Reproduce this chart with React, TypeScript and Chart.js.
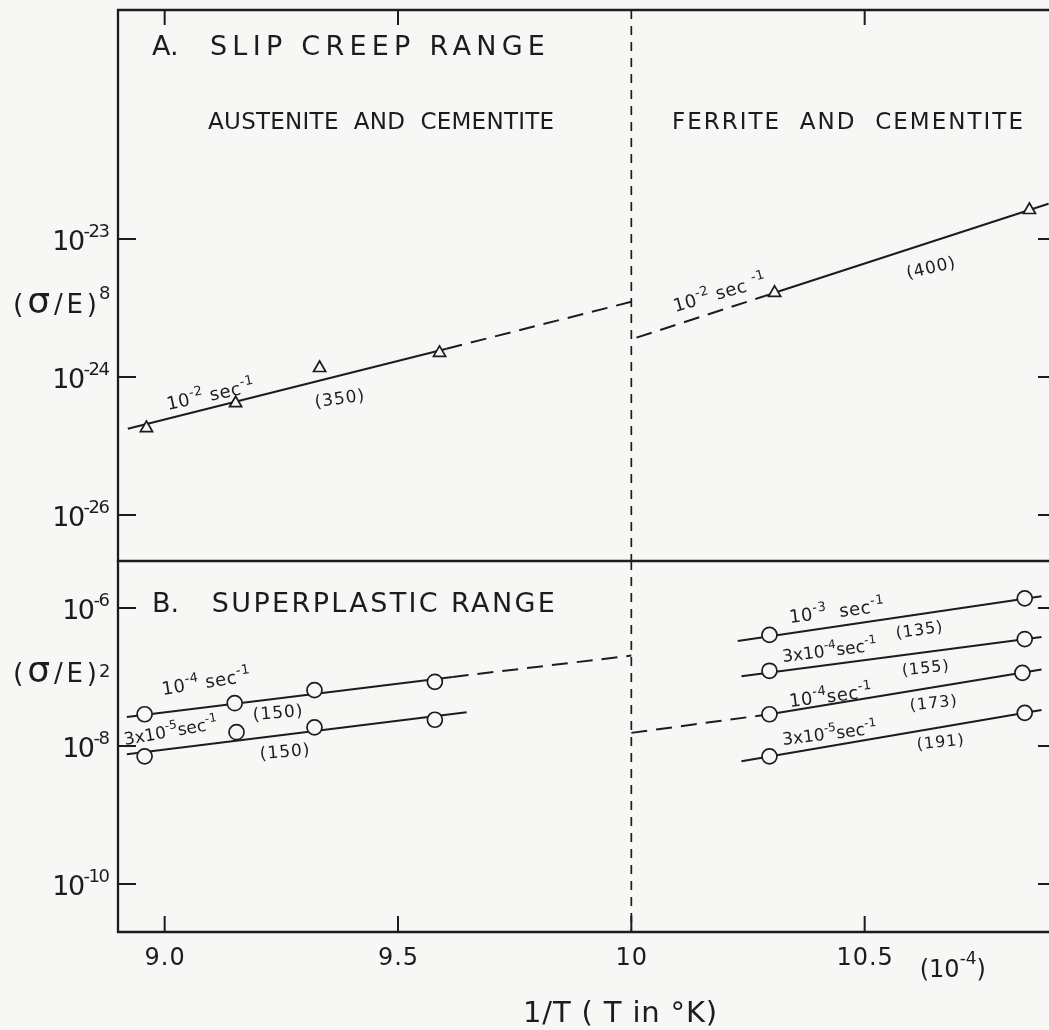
import React, { useEffect, useRef } from 'react';
import { Chart, registerables } from 'chart.js';

Chart.register(...registerables);

// ---------------------------------------------------------------------------
// Data. Abscissa: 1/T in units of 1e-4 K^-1. Ordinates are log10 values.
// ---------------------------------------------------------------------------
const X_MIN = 8.9;
const X_MAX = 10.91;
const xTickValues = [9.0, 9.5, 10, 10.5];
const xTickLabels = ['9.0', '9.5', '10', '10.5'];
const phaseBoundaryX = 10;

// Panel A: slip creep range, log10 (σ/E)^8
const SLIP_Y_MIN = -26.667;
const SLIP_Y_MAX = -18.681;
const slipTickValues = [-22, -24, -26];
const slipTickExponents = ['-23', '-24', '-26'];

const slipAusteniteX = [8.961, 9.152, 9.332, 9.589];
const slipAusteniteY = [-24.74, -24.38, -23.87, -23.65];
const slipAusteniteFitX = [8.921, 9.604];
const slipAusteniteFitY = [-24.75, -23.59];
const slipAusteniteExtX = [9.604, 10.0];
const slipAusteniteExtY = [-23.59, -22.91];

const slipFerriteX = [10.307, 10.853];
const slipFerriteY = [-22.78, -21.58];
const slipFerriteFitX = [10.307, 10.894];
const slipFerriteFitY = [-22.78, -21.49];
const slipFerriteExtX = [10.011, 10.307];
const slipFerriteExtY = [-23.43, -22.78];

// Panel B: superplastic range, log10 (σ/E)^2
const SP_Y_MIN = -10.696;
const SP_Y_MAX = -5.319;
const spTickValues = [-6, -8, -10];
const spTickExponents = ['-6', '-8', '-10'];

// austenite + cementite, 1e-4 s^-1
const spA4X = [8.957, 9.15, 9.321, 9.579];
const spA4Y = [-7.54, -7.38, -7.19, -7.07];
const spA4FitX = [8.919, 9.617];
const spA4FitY = [-7.58, -7.0];
const spA4ExtX = [9.617, 10.0];
const spA4ExtY = [-7.0, -6.69];

// austenite + cementite, 3x1e-5 s^-1
const spA35X = [8.957, 9.154, 9.321, 9.579];
const spA35Y = [-8.15, -7.8, -7.73, -7.62];
const spA35FitX = [8.919, 9.647];
const spA35FitY = [-8.12, -7.51];

// ferrite + cementite
const spF3X = [10.296, 10.843];
const spF3Y = [-6.39, -5.86];
const spF3FitX = [10.228, 10.879];
const spF3FitY = [-6.48, -5.83];

const spF34X = [10.296, 10.843];
const spF34Y = [-6.91, -6.45];
const spF34FitX = [10.236, 10.879];
const spF34FitY = [-6.99, -6.42];

const spF4X = [10.296, 10.838];
const spF4Y = [-7.54, -6.94];
const spF4FitX = [10.296, 10.879];
const spF4FitY = [-7.54, -6.89];
const spF4ExtX = [10.0, 10.296];
const spF4ExtY = [-7.81, -7.54];

const spF35X = [10.296, 10.843];
const spF35Y = [-8.15, -7.52];
const spF35FitX = [10.236, 10.879];
const spF35FitY = [-8.22, -7.48];

// ---------------------------------------------------------------------------
// Styling
// ---------------------------------------------------------------------------
const INK = '#1c1c1c';
const PAPER = '#f7f7f5';
const FONT = '"DejaVu Sans", "Liberation Sans", sans-serif';

type Run = { t: string; sup?: boolean; size?: number };
type Label = {
  runs: Run[];
  x: number; // data units
  y: number; // data units (baseline)
  size: number;
  angle?: number;
  align?: 'left' | 'center' | 'right';
  width?: number;
  spacing?: number;
};

const txt = (t: string, size?: number): Run => ({ t, size });
const sup = (t: string): Run => ({ t, sup: true });

const slipLabels: Label[] = [
  { runs: [txt('A.')], x: 8.973, y: -19.333, size: 27 },
  { runs: [txt('SLIP CREEP RANGE')], x: 9.097, y: -19.333, size: 27, width: 335 },
  { runs: [txt('AUSTENITE  AND  CEMENTITE')], x: 9.093, y: -20.406, size: 23, width: 346 },
  { runs: [txt('FERRITE  AND  CEMENTITE')], x: 10.087, y: -20.406, size: 23, width: 351 },
  { runs: [txt('10'), sup('-2'), txt(' sec'), sup('-1')], x: 9.007, y: -24.478, size: 18, angle: -12, spacing: 0.5 },
  { runs: [txt('(350)')], x: 9.376, y: -24.391, size: 17, angle: -8, align: 'center', spacing: 1 },
  { runs: [txt('10'), sup('-2'), txt(' sec '), sup('-1')], x: 10.094, y: -23.058, size: 18, angle: -16, spacing: 0.5 },
  { runs: [txt('(400)')], x: 10.644, y: -22.493, size: 17, angle: -13, align: 'center', spacing: 1 },
];

const spLabels: Label[] = [
  { runs: [txt('B.')], x: 8.973, y: -6.058, size: 27 },
  { runs: [txt('SUPERPLASTIC RANGE')], x: 9.101, y: -6.058, size: 27, width: 343 },
  { runs: [txt('10'), sup('-4'), txt(' sec'), sup('-1')], x: 8.996, y: -7.261, size: 18, angle: -9, spacing: 0.5 },
  { runs: [txt('(150)')], x: 9.243, y: -7.594, size: 17, angle: -5, align: 'center', spacing: 1 },
  { runs: [txt('3x10'), sup('-5'), txt('sec'), sup('-1')], x: 8.915, y: -7.986, size: 17, angle: -10 },
  { runs: [txt('(150)')], x: 9.258, y: -8.16, size: 17, angle: -5, align: 'center', spacing: 1 },
  { runs: [txt('10'), sup('-3'), txt('  sec'), sup('-1')], x: 10.34, y: -6.218, size: 18, angle: -7, spacing: 0.5 },
  { runs: [txt('(135)')], x: 10.618, y: -6.391, size: 16, angle: -8, align: 'center', spacing: 1 },
  { runs: [txt('3x10'), sup('-4'), txt('sec'), sup('-1')], x: 10.325, y: -6.783, size: 17, angle: -7 },
  { runs: [txt('(155)')], x: 10.631, y: -6.942, size: 16, angle: -6, align: 'center', spacing: 1 },
  { runs: [txt('10'), sup('-4'), txt('sec'), sup('-1')], x: 10.34, y: -7.435, size: 18, angle: -7, spacing: 0.5 },
  { runs: [txt('(173)')], x: 10.648, y: -7.449, size: 16, angle: -6, align: 'center', spacing: 1 },
  { runs: [txt('3x10'), sup('-5'), txt('sec'), sup('-1')], x: 10.325, y: -7.986, size: 17, angle: -7 },
  { runs: [txt('(191)')], x: 10.663, y: -8.015, size: 16, angle: -6, align: 'center', spacing: 1 },
];

// ---------------------------------------------------------------------------
// Text helper: draws a sequence of normal / superscript runs on one baseline
// ---------------------------------------------------------------------------
function drawRuns(
  ctx: CanvasRenderingContext2D,
  runs: Run[],
  px: number,
  py: number,
  size: number,
  opts: { angle?: number; align?: 'left' | 'center' | 'right'; width?: number; spacing?: number; supSize?: number; rise?: number } = {}
) {
  const c = ctx as any;
  const supSize = opts.supSize ?? Math.round(size * 0.72);
  const rise = opts.rise ?? size * 0.45;
  const runSize = (r: Run) => (r.sup ? supSize : r.size ?? size);
  ctx.save();
  ctx.translate(px, py);
  ctx.rotate(((opts.angle ?? 0) * Math.PI) / 180);
  ctx.textAlign = 'left';
  ctx.textBaseline = 'alphabetic';
  ctx.fillStyle = INK;
  c.letterSpacing = '0px';
  const nat = runs.map((r) => {
    ctx.font = `${runSize(r)}px ${FONT}`;
    return ctx.measureText(r.t).width;
  });
  const natTotal = nat.reduce((a, b) => a + b, 0);
  const chars = runs.reduce((n, r) => n + Array.from(r.t).length, 0);
  let sp = opts.spacing ?? 0;
  if (opts.width !== undefined && chars > 1) sp = (opts.width - natTotal) / (chars - 1);
  const total = natTotal + sp * (chars - 1);
  let x = opts.align === 'center' ? -total / 2 : opts.align === 'right' ? -total : 0;
  c.letterSpacing = `${sp}px`;
  runs.forEach((r, i) => {
    ctx.font = `${runSize(r)}px ${FONT}`;
    ctx.fillText(r.t, x, r.sup ? -rise : 0);
    x += nat[i] + sp * Array.from(r.t).length;
  });
  ctx.restore();
}

function line(ctx: CanvasRenderingContext2D, x1: number, y1: number, x2: number, y2: number) {
  ctx.beginPath();
  ctx.moveTo(x1, y1);
  ctx.lineTo(x2, y2);
  ctx.stroke();
}

// ---------------------------------------------------------------------------
// Frame / annotation plugin shared by both panels
// ---------------------------------------------------------------------------
type PanelSpec = {
  id: string;
  isTop: boolean;
  tickValues: number[];
  tickExponents: string[];
  titleExp: string;
  titleY: number;
  titleRise: number;
  labels: Label[];
};

function framePlugin(spec: PanelSpec) {
  return {
    id: 'frame-' + spec.id,
    beforeDatasetsDraw(chart: any) {
      const { ctx, chartArea: a } = chart;
      const xs = chart.scales.x;
      const ys = chart.scales.y;
      ctx.save();
      ctx.strokeStyle = INK;
      ctx.lineCap = 'butt';

      // boundary between the two phase fields
      ctx.lineWidth = 1.7;
      ctx.setLineDash([9, 7]);
      const bx = xs.getPixelForValue(phaseBoundaryX);
      line(ctx, bx, a.top, bx, a.bottom);
      ctx.setLineDash([]);

      // frame
      ctx.lineWidth = 2.3;
      line(ctx, a.left, a.top - 1, a.left, a.bottom + 1);
      line(ctx, a.right, a.top, a.right, a.bottom);
      if (spec.isTop) {
        line(ctx, a.left - 1, a.top, a.right, a.top);
        line(ctx, a.left - 1, a.bottom, a.right, a.bottom);
      } else {
        line(ctx, a.left - 1, a.bottom, a.right, a.bottom);
      }

      // x ticks (inward)
      ctx.lineWidth = 2;
      xTickValues.forEach((v) => {
        const px = xs.getPixelForValue(v);
        if (spec.isTop) {
          if (v !== phaseBoundaryX) line(ctx, px, a.top, px, a.top + 15);
        } else {
          line(ctx, px, a.bottom, px, a.bottom - 16);
        }
      });

      // y ticks (inward, both sides)
      spec.tickValues.forEach((v) => {
        const py = ys.getPixelForValue(v);
        line(ctx, a.left, py, a.left + 18, py);
        line(ctx, a.right, py, a.right - 18, py);
      });
      ctx.restore();
    },
    afterDatasetsDraw(chart: any) {
      const { ctx, chartArea: a } = chart;
      const xs = chart.scales.x;
      const ys = chart.scales.y;

      // y tick labels: 10 with superscript exponent
      spec.tickValues.forEach((v, i) => {
        const py = ys.getPixelForValue(v);
        drawRuns(ctx, [txt('10'), sup(spec.tickExponents[i])], a.left - 8, py + 11, 27, {
          align: 'right',
          spacing: -1.5,
          supSize: 18,
          rise: 13,
        });
      });

      // y axis title
      const ty = ys.getPixelForValue(spec.titleY);
      drawRuns(ctx, [txt('(', 27), txt('σ', 36), txt('/E)', 26)], 13, ty, 26, { width: 84 });
      drawRuns(ctx, [txt(spec.titleExp)], 99, ty - spec.titleRise, 18);

      // annotations
      spec.labels.forEach((l) => {
        drawRuns(ctx, l.runs, xs.getPixelForValue(l.x), ys.getPixelForValue(l.y), l.size, {
          angle: l.angle,
          align: l.align,
          width: l.width,
          spacing: l.spacing,
        });
      });

      if (!spec.isTop) {
        // x tick labels and axis title
        xTickValues.forEach((v, i) => {
          drawRuns(ctx, [txt(xTickLabels[i])], xs.getPixelForValue(v), a.bottom + 33, 24, {
            align: 'center',
            spacing: 1,
          });
        });
        drawRuns(ctx, [txt('(10'), sup('-4'), txt(')')], xs.getPixelForValue(10.618), a.bottom + 45, 24, {
          spacing: 0,
          supSize: 17,
          rise: 13,
        });
        drawRuns(ctx, [txt('1/T ( T in °K)')], xs.getPixelForValue(9.768), a.bottom + 90, 29, { width: 194 });
      }
    },
  };
}

// ---------------------------------------------------------------------------
// Dataset builders
// ---------------------------------------------------------------------------
const pts = (xs: number[], ys: number[]) => xs.map((x, i) => ({ x, y: ys[i] }));

function markers(label: string, xs: number[], ys: number[], style: 'triangle' | 'circle') {
  return {
    label,
    data: pts(xs, ys),
    showLine: false,
    pointStyle: style,
    pointRadius: style === 'triangle' ? 7 : 7.5,
    pointBorderWidth: 1.7,
    pointBackgroundColor: PAPER,
    pointBorderColor: INK,
    borderColor: INK,
    order: 0,
  };
}

function fit(label: string, xs: number[], ys: number[], dashed = false) {
  return {
    label,
    data: pts(xs, ys),
    showLine: true,
    borderColor: INK,
    borderWidth: 2,
    borderDash: dashed ? [16, 9] : [],
    pointRadius: 0,
    tension: 0,
    fill: false,
    order: 1,
  };
}

function baseOptions(yMin: number, yMax: number, padding: any) {
  return {
    responsive: false,
    maintainAspectRatio: false,
    animation: false as const,
    devicePixelRatio: 1,
    events: [] as any[],
    layout: { padding, autoPadding: false },
    plugins: { legend: { display: false }, tooltip: { enabled: false } },
    scales: {
      x: { type: 'linear' as const, min: X_MIN, max: X_MAX, display: false },
      y: { type: 'linear' as const, min: yMin, max: yMax, display: false },
    },
  };
}

function slipConfig(): any {
  return {
    type: 'line',
    data: {
      datasets: [
        markers('austenite + cementite, 1e-2 s-1', slipAusteniteX, slipAusteniteY, 'triangle'),
        markers('ferrite + cementite, 1e-2 s-1', slipFerriteX, slipFerriteY, 'triangle'),
        fit('austenite fit (350)', slipAusteniteFitX, slipAusteniteFitY),
        fit('austenite extrapolation', slipAusteniteExtX, slipAusteniteExtY, true),
        fit('ferrite fit (400)', slipFerriteFitX, slipFerriteFitY),
        fit('ferrite extrapolation', slipFerriteExtX, slipFerriteExtY, true),
      ],
    },
    options: baseOptions(SLIP_Y_MIN, SLIP_Y_MAX, { left: 118, right: 0, top: 10, bottom: 5 }),
    plugins: [
      framePlugin({
        id: 'slip',
        isTop: true,
        tickValues: slipTickValues,
        tickExponents: slipTickExponents,
        titleExp: '8',
        titleY: -23.072,
        titleRise: 14,
        labels: slipLabels,
      }),
    ],
  };
}

function superplasticConfig(): any {
  return {
    type: 'line',
    data: {
      datasets: [
        markers('A+C 1e-4', spA4X, spA4Y, 'circle'),
        markers('A+C 3e-5', spA35X, spA35Y, 'circle'),
        markers('F+C 1e-3', spF3X, spF3Y, 'circle'),
        markers('F+C 3e-4', spF34X, spF34Y, 'circle'),
        markers('F+C 1e-4', spF4X, spF4Y, 'circle'),
        markers('F+C 3e-5', spF35X, spF35Y, 'circle'),
        fit('A+C 1e-4 fit', spA4FitX, spA4FitY),
        fit('A+C 1e-4 extrapolation', spA4ExtX, spA4ExtY, true),
        fit('A+C 3e-5 fit', spA35FitX, spA35FitY),
        fit('F+C 1e-3 fit', spF3FitX, spF3FitY),
        fit('F+C 3e-4 fit', spF34FitX, spF34FitY),
        fit('F+C 1e-4 fit', spF4FitX, spF4FitY),
        fit('F+C 1e-4 extrapolation', spF4ExtX, spF4ExtY, true),
        fit('F+C 3e-5 fit', spF35FitX, spF35FitY),
      ],
    },
    options: baseOptions(SP_Y_MIN, SP_Y_MAX, { left: 118, right: 0, top: 5, bottom: 98 }),
    plugins: [
      framePlugin({
        id: 'sp',
        isTop: false,
        tickValues: spTickValues,
        tickExponents: spTickExponents,
        titleExp: '2',
        titleY: -7.073,
        titleRise: 5,
        labels: spLabels,
      }),
    ],
  };
}

export default function App() {
  const topRef = useRef<HTMLCanvasElement>(null);
  const bottomRef = useRef<HTMLCanvasElement>(null);

  useEffect(() => {
    const top = new Chart(topRef.current as HTMLCanvasElement, slipConfig());
    const bottom = new Chart(bottomRef.current as HTMLCanvasElement, superplasticConfig());
    return () => {
      top.destroy();
      bottom.destroy();
    };
  }, []);

  return (
    <div
      style={{
        position: 'absolute',
        left: 0,
        top: 0,
        width: 1049,
        height: 1030,
        overflow: 'hidden',
        background: PAPER,
      }}
    >
      <canvas
        ref={topRef}
        width={1056}
        height={566}
        style={{ position: 'absolute', left: 0, top: 0, width: 1056, height: 566 }}
      />
      <canvas
        ref={bottomRef}
        width={1056}
        height={474}
        style={{ position: 'absolute', left: 0, top: 556, width: 1056, height: 474 }}
      />
    </div>
  );
}
